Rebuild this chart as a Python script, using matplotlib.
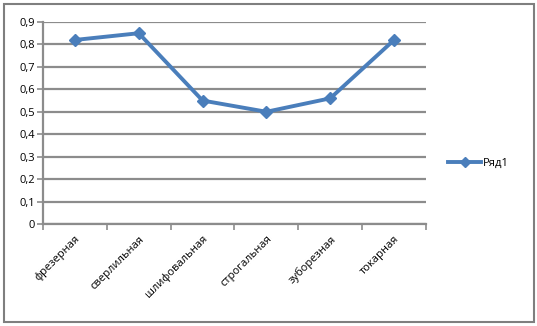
import matplotlib.pyplot as plt
from matplotlib.patches import Rectangle

categories = ["фрезерная", "сверлильная", "шлифовальная", "строгальная", "зуборезная", "токарная"]
values = [0.82, 0.85, 0.55, 0.50, 0.56, 0.82]
series_name = "Ряд1"
yticks = [0, 0.1, 0.2, 0.3, 0.4, 0.5, 0.6, 0.7, 0.8, 0.9]

plt.rcParams['font.family'] = ['Open Sans', 'DejaVu Sans']

fig = plt.figure(figsize=(5.37, 3.26), dpi=100)
ax = fig.add_axes([43/537, 1 - 224/326, 383/537, 202/326])

line_color = '#4A7EBB'
grid_color = '#8C8C8C'

x = [i + 0.5 for i in range(len(categories))]
ax.plot(x, values, color=line_color, lw=2.8, marker='D', ms=6, label=series_name)

ax.set_xlim(0, len(categories))
ax.set_ylim(0, 0.9)
ax.set_yticks(yticks)
ax.set_yticklabels([str(v).replace('.', ',') for v in yticks], fontsize=8)
ax.set_xticks(range(len(categories) + 1))
ax.set_xticklabels([])
ax.set_xticks(x, minor=True)
ax.set_xticklabels(categories, minor=True, rotation=45, ha='right', va='top',
                   rotation_mode='anchor', fontsize=8)
ax.tick_params(axis='x', which='minor', length=0, pad=7)
ax.tick_params(axis='x', which='major', length=4, width=1.2, color=grid_color, direction='out')
ax.tick_params(axis='y', length=4, width=1.2, color=grid_color, direction='out', pad=2)

ax.yaxis.grid(True, color=grid_color, lw=1.6)
ax.set_axisbelow(True)
for s in ['top', 'right']:
    ax.spines[s].set_visible(False)
for s in ['left', 'bottom']:
    ax.spines[s].set_color(grid_color)
    ax.spines[s].set_linewidth(1.6)

ax.legend(loc='center left', bbox_to_anchor=(438/537, 163/326), bbox_transform=fig.transFigure,
          frameon=False, fontsize=8, handlelength=3.0, handletextpad=0.1, markerscale=0.8)

fig.patches.append(Rectangle((4/537, 4/326), 530/537, 318/326, transform=fig.transFigure,
                             fill=False, edgecolor='#7F7F7F', lw=1.5))

fig.savefig('out.png', dpi=100)
